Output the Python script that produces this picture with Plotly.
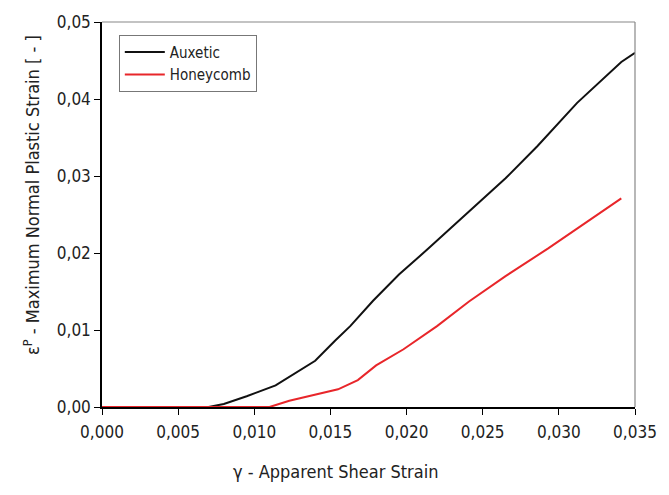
import plotly.graph_objects as go

aux_x = [0.0, 0.0070, 0.0080, 0.0095, 0.0114, 0.0128, 0.0140, 0.0153, 0.0163, 0.0178,
         0.0195, 0.0215, 0.0240, 0.0265, 0.0286, 0.0312, 0.0341, 0.0350]
aux_y = [0.0, 0.0, 0.0004, 0.0014, 0.0028, 0.0045, 0.0060, 0.0086, 0.0105, 0.0138,
         0.0172, 0.0207, 0.0252, 0.0297, 0.0339, 0.0395, 0.0448, 0.0460]
hc_x = [0.0, 0.0110, 0.0123, 0.0140, 0.0155, 0.0168, 0.0180, 0.0198, 0.0220, 0.0241,
        0.0265, 0.0293, 0.0317, 0.0341]
hc_y = [0.0, 0.0, 0.0008, 0.0016, 0.0023, 0.0035, 0.0054, 0.0075, 0.0105, 0.0137,
        0.0170, 0.0206, 0.0238, 0.0271]

FONT = "DejaVu Sans Condensed"

fig = go.Figure()
fig.add_trace(go.Scatter(x=aux_x, y=aux_y, mode="lines", name="Auxetic",
                         line=dict(color="#111111", width=2)))
fig.add_trace(go.Scatter(x=hc_x, y=hc_y, mode="lines", name="Honeycomb",
                         line=dict(color="#e8262a", width=2)))

axis_common = dict(showgrid=False, zeroline=False, showline=True, linecolor="#000000",
                   linewidth=1.5, ticks="outside", ticklen=6, tickwidth=1.2,
                   tickcolor="#000000", layer="below traces",
                   tickfont=dict(family=FONT, size=17, color="#222222"))

fig.update_xaxes(range=[0, 0.035], dtick=0.005, tick0=0, tickformat=".3f",
                 ticklabelstandoff=3, **axis_common)
fig.update_yaxes(range=[0, 0.05], dtick=0.01, tick0=0, tickformat=".2f", **axis_common)

fig.update_layout(
    width=669, height=495,
    margin=dict(l=102, r=28, t=18, b=88),
    paper_bgcolor="white", plot_bgcolor="white",
    separators=",.",
    showlegend=True,
    legend=dict(x=(119 - 102) / 539, y=(407 - 31) / 389, xanchor="left", yanchor="top",
                bordercolor="#777777", borderwidth=1, bgcolor="white",
                font=dict(family=FONT, size=15, color="#222222"),
                tracegroupgap=0, itemwidth=40),
    shapes=[
        dict(type="line", xref="paper", yref="paper", x0=0, x1=1, y0=1, y1=1,
             line=dict(color="#888888", width=1.2)),
        dict(type="line", xref="paper", yref="paper", x0=1, x1=1, y0=0, y1=1,
             line=dict(color="#888888", width=1.2)),
    ],
    annotations=[
        dict(text="γ - Apparent Shear Strain", xref="paper", yref="paper",
             x=(338 - 102) / 539, y=-(472 - 407) / 389, xanchor="center", yanchor="middle",
             showarrow=False, font=dict(family=FONT, size=18, color="#222222")),
        dict(text="ε<sup>P</sup> - Maximum Normal Plastic Strain [ - ]", xref="paper", yref="paper",
             x=-(102 - 31) / 539, y=(407 - 193) / 389, xanchor="center", yanchor="middle",
             textangle=-90, showarrow=False,
             font=dict(family=FONT, size=18, color="#222222")),
    ],
)

fig.write_html("out.html")
